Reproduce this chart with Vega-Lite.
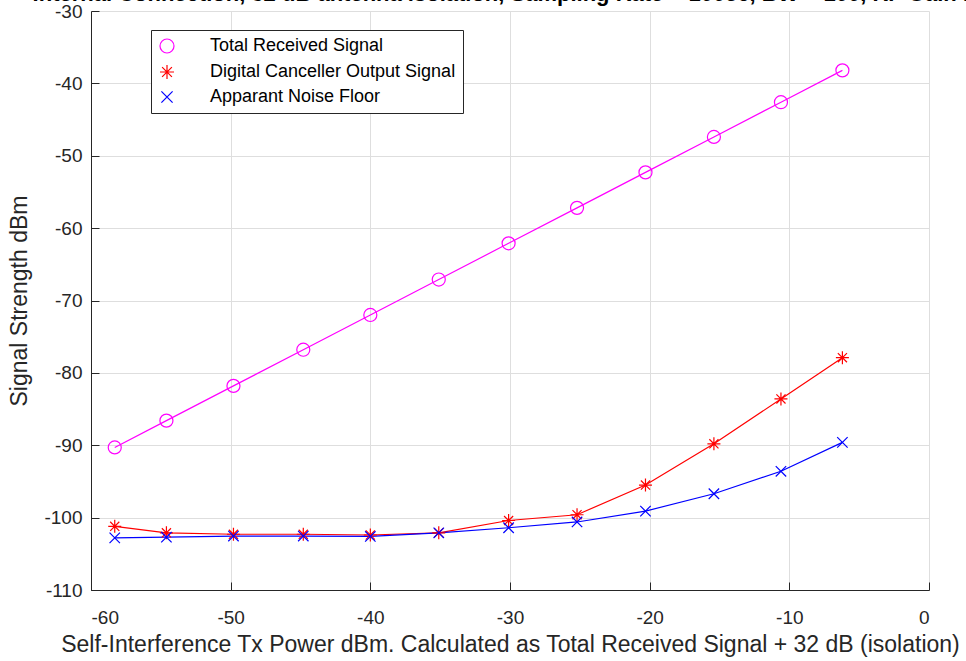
{
  "$schema": "https://vega.github.io/schema/vega-lite/v6.json",
  "width": 838,
  "height": 579,
  "autosize": {"type": "none"},
  "padding": {"left": 91, "top": 11, "right": 37, "bottom": 71},
  "background": "white",
  "title": {
    "text": "Internal Connection, 32 dB antenna isolation, Sampling Rate = 100e6, BW = 100, RF Gain 10",
    "font": "Liberation Sans",
    "fontSize": 22,
    "fontWeight": "bold",
    "color": "#000000",
    "anchor": "middle",
    "baseline": "alphabetic",
    "offset": -21
  },
  "data": {
    "values": [
      {"x": -58.3, "y": -90.3, "series": "Total Received Signal"},
      {"x": -54.6, "y": -86.6, "series": "Total Received Signal"},
      {"x": -49.8, "y": -81.8, "series": "Total Received Signal"},
      {"x": -44.8, "y": -76.8, "series": "Total Received Signal"},
      {"x": -40.0, "y": -72.0, "series": "Total Received Signal"},
      {"x": -35.1, "y": -67.1, "series": "Total Received Signal"},
      {"x": -30.1, "y": -62.1, "series": "Total Received Signal"},
      {"x": -25.2, "y": -57.2, "series": "Total Received Signal"},
      {"x": -20.3, "y": -52.3, "series": "Total Received Signal"},
      {"x": -15.4, "y": -47.4, "series": "Total Received Signal"},
      {"x": -10.6, "y": -42.6, "series": "Total Received Signal"},
      {"x": -6.2, "y": -38.2, "series": "Total Received Signal"},
      {"x": -58.3, "y": -101.2, "series": "Digital Canceller Output Signal"},
      {"x": -54.6, "y": -102.1, "series": "Digital Canceller Output Signal"},
      {"x": -49.8, "y": -102.3, "series": "Digital Canceller Output Signal"},
      {"x": -44.8, "y": -102.3, "series": "Digital Canceller Output Signal"},
      {"x": -40.0, "y": -102.4, "series": "Digital Canceller Output Signal"},
      {"x": -35.1, "y": -102.1, "series": "Digital Canceller Output Signal"},
      {"x": -30.1, "y": -100.4, "series": "Digital Canceller Output Signal"},
      {"x": -25.2, "y": -99.6, "series": "Digital Canceller Output Signal"},
      {"x": -20.3, "y": -95.5, "series": "Digital Canceller Output Signal"},
      {"x": -15.4, "y": -89.8, "series": "Digital Canceller Output Signal"},
      {"x": -10.6, "y": -83.6, "series": "Digital Canceller Output Signal"},
      {"x": -6.2, "y": -77.9, "series": "Digital Canceller Output Signal"},
      {"x": -58.3, "y": -102.8, "series": "Apparant Noise Floor"},
      {"x": -54.6, "y": -102.7, "series": "Apparant Noise Floor"},
      {"x": -49.8, "y": -102.55, "series": "Apparant Noise Floor"},
      {"x": -44.8, "y": -102.55, "series": "Apparant Noise Floor"},
      {"x": -40.0, "y": -102.6, "series": "Apparant Noise Floor"},
      {"x": -35.1, "y": -102.1, "series": "Apparant Noise Floor"},
      {"x": -30.1, "y": -101.4, "series": "Apparant Noise Floor"},
      {"x": -25.2, "y": -100.6, "series": "Apparant Noise Floor"},
      {"x": -20.3, "y": -99.1, "series": "Apparant Noise Floor"},
      {"x": -15.4, "y": -96.7, "series": "Apparant Noise Floor"},
      {"x": -10.6, "y": -93.6, "series": "Apparant Noise Floor"},
      {"x": -6.2, "y": -89.6, "series": "Apparant Noise Floor"}
    ]
  },
  "encoding": {
    "x": {
      "field": "x",
      "type": "quantitative",
      "scale": {"domain": [-60, 0], "nice": false, "zero": false},
      "axis": {
        "values": [-60, -50, -40, -30, -20, -10, 0],
        "title": "Self-Interference Tx Power dBm. Calculated as Total Received Signal + 32 dB (isolation)",
        "labelPadding": 26,
        "titlePadding": 6
      }
    },
    "y": {
      "field": "y",
      "type": "quantitative",
      "scale": {"domain": [-110, -30], "nice": false, "zero": false},
      "axis": {
        "values": [-110, -100, -90, -80, -70, -60, -50, -40, -30],
        "title": "Signal Strength dBm",
        "labelPadding": 17,
        "titlePadding": 12
      }
    },
    "color": {
      "field": "series",
      "type": "nominal",
      "scale": {
        "domain": ["Total Received Signal", "Digital Canceller Output Signal", "Apparant Noise Floor"],
        "range": ["#ff00ff", "#ff0000", "#0000ff"]
      }
    }
  },
  "layer": [
    {
      "mark": {"type": "line", "strokeWidth": 1.2}
    },
    {
      "mark": {"type": "point", "filled": false, "strokeWidth": 1.2, "size": 170, "opacity": 1},
      "encoding": {
        "shape": {
          "field": "series",
          "type": "nominal",
          "scale": {
            "domain": ["Total Received Signal", "Digital Canceller Output Signal", "Apparant Noise Floor"],
            "range": [
              "circle",
              "M0,-1V1M-1,0H1M-0.7,-0.7L0.7,0.7M-0.7,0.7L0.7,-0.7",
              "M-0.8,-0.8L0.8,0.8M-0.8,0.8L0.8,-0.8"
            ]
          }
        }
      }
    }
  ],
  "config": {
    "view": {"stroke": null},
    "legend": {
      "orient": "none",
      "legendX": 60,
      "legendY": 19,
      "title": null,
      "padding": 7,
      "strokeColor": "#262626",
      "fillColor": "white",
      "symbolSize": 196,
      "symbolStrokeWidth": 1.2,
      "labelFont": "Liberation Sans",
      "labelFontSize": 18,
      "labelColor": "#000000",
      "labelOffset": 34,
      "labelLimit": 400,
      "rowPadding": 6
    },
    "axis": {
      "grid": true,
      "gridColor": "#dedede",
      "gridWidth": 1,
      "domainColor": "#262626",
      "domainWidth": 1,
      "tickColor": "#262626",
      "tickSize": -8,
      "tickWidth": 1,
      "labelFont": "Liberation Sans",
      "labelFontSize": 19,
      "labelColor": "#262626",
      "labelExpr": "'' + datum.value",
      "titleFont": "Liberation Sans",
      "titleFontSize": 23,
      "titleFontWeight": "normal",
      "titleColor": "#262626"
    }
  }
}
